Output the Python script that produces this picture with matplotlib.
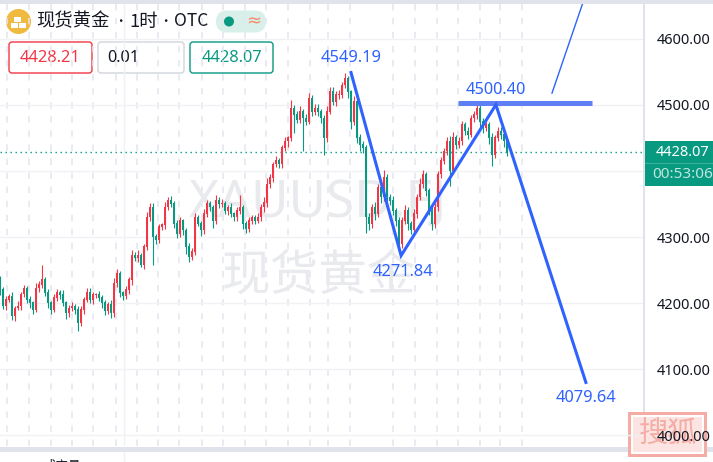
import matplotlib
matplotlib.use("Agg")
import matplotlib.pyplot as plt
from matplotlib.patches import FancyBboxPatch, Rectangle, Circle

plt.rcParams['font.family'] = ['Noto Sans CJK SC', 'DejaVu Sans']

closes = [
 4220,4196,4205,4210,4180,4192,4195,4213,4222,4205,
 4200,4190,4222,4228,4235,4215,4200,4190,4208,4215,
 4212,4200,4185,4192,4195,4190,4170,4190,4205,4215,
 4205,4212,4212,4208,4200,4188,4198,4185,4230,4245,
 4215,4210,4220,4235,4272,4268,4272,4258,4285,4330,
 4345,4300,4295,4315,4318,4345,4355,4350,4320,4305,
 4325,4310,4285,4270,4278,4330,4320,4310,4335,4350,
 4345,4325,4355,4350,4350,4340,4345,4335,4330,4340,
 4345,4320,4312,4325,4330,4325,4330,4345,4352,4380,
 4390,4410,4415,4410,4435,4445,4450,4495,4485,4478,
 4490,4480,4475,4510,4490,4495,4490,4480,4450,4490,
 4520,4505,4515,4515,4530,4540,4520,4475,4505,4450,
 4440,4435,4330,4320,4345,4335,4375,4360,4390,4360,
 4355,4340,4325,4290,4325,4340,4320,4310,4335,4360,
 4380,4395,4370,4340,4320,4345,4395,4415,4430,4445,
 4400,4450,4440,4445,4470,4460,4455,4480,4485,4495,
 4475,4465,4470,4450,4425,4450,4460,4455,4445,4428,
]
wick_up = [
 6,4,5,3,7,4,8,3,5,4,
 6,3,8,5,23,4,6,3,5,6,
 4,7,3,5,6,4,5,6,4,7,
 8,5,3,6,4,5,3,7,8,6,
 4,3,6,5,9,6,8,4,5,8,
 7,6,4,5,3,8,5,7,4,6,
 5,3,4,6,5,7,4,5,8,6,
 5,3,8,6,7,5,4,6,3,5,
 18,4,5,6,4,3,7,5,8,9,
 6,4,7,5,4,6,3,12,5,6,
 8,4,6,8,5,6,7,4,5,9,
 8,7,6,8,5,9,4,3,8,5,
 6,5,4,6,5,8,6,9,12,6,
 5,7,4,6,5,8,6,5,7,5,
 9,6,4,5,6,7,5,6,5,7,
 8,9,5,7,6,4,6,5,6,9,
 5,6,4,5,8,4,6,7,5,4,
]
wick_down = [
 8,5,6,4,5,7,3,6,4,5,
 8,7,4,5,6,5,8,6,4,5,
 6,4,9,6,4,6,12,5,6,4,
 5,6,4,5,7,6,5,8,6,5,
 6,5,4,6,8,5,6,4,7,5,
 6,42,6,4,5,6,4,5,7,6,
 5,7,10,8,5,6,4,8,5,4,
 6,12,5,6,4,5,6,4,5,6,
 5,8,6,4,5,6,4,5,7,6,
 5,6,4,5,6,4,8,5,28,6,
 5,50,6,4,7,5,6,8,25,6,
 4,5,7,6,5,4,10,12,6,8,
 9,7,24,10,6,9,5,8,6,5,
 7,6,8,12,7,5,9,6,5,6,
 4,6,8,7,10,6,5,6,4,5,
 22,5,6,5,6,5,6,4,5,6,
 8,7,5,9,18,6,5,6,9,6,
]
bar_index = list(range(len(closes)))

swing_x = [117.0, 133.7, 165.3, 195.3]
swing_price = [4549.19, 4271.84, 4500.40, 4079.64]
swing_labels = ['4549.19', '4271.84', '4500.40', '4079.64']
swing_offsets = [(0, 10.8), (1.5, -12), (0, 10.6), (0, -11.5)]
trend_x = [184.0, 194.3]
trend_price = [4518, 4655]
level_x = [152.7, 197.3]
level_price = 4503

price_ticks = [4000, 4100, 4200, 4300, 4400, 4500, 4600]
tick_labels = ['4000.00', '4100.00', '4200.00', '4300.00', '', '4500.00', '4600.00']
grid_x = [2.3, 9.7, 17, 24, 31, 38.7, 45.7, 52.7, 59.7, 67.3, 74.3, 81.7, 88.7,
          96, 103.3, 109.3, 116.7, 131, 138.3, 145.7, 152.7, 160, 166.7, 174]
last_price = 4428.07
ask = '4428.21'
spread = '0.01'
bid = '4428.07'
countdown = '00:53:06'

RED = '#f23645'
GREEN = '#089981'
BLUE = '#2f62ff'
W, H = 713, 462

fig = plt.figure(figsize=(7.13, 4.62), dpi=100, facecolor='white')

# pixel-coordinate layer underneath the chart
ov = fig.add_axes([0, 0, 1, 1], facecolor='white', zorder=1)
ov.set_xlim(0, W)
ov.set_ylim(H, 0)
ov.axis('off')

ax = fig.add_axes([0, (H - 446) / H, 643 / W, 442 / H], facecolor='none', zorder=2)
ax.set_xlim(0, 643 / 3)
ax.set_ylim(4600 - 407 / 0.66, 4600 + 35 / 0.66)
for s in ax.spines.values():
    s.set_visible(False)
ax.set_axisbelow(True)

ax.yaxis.tick_right()
ax.set_yticks(price_ticks)
ax.set_yticklabels(tick_labels, fontsize=10.5, color='#131722', family='Noto Sans')
ax.tick_params(axis='y', length=0, pad=10)
ax.set_xticks(grid_x)
ax.set_xticklabels([])
ax.tick_params(axis='x', length=0)
ax.grid(axis='y', color='#f0f1f5', lw=1)
ax.grid(axis='x', color='#e4e6ef', lw=1.1, linestyle=(0, (4.2, 5)))
ax.axvline(41.3, color='#f0f1f5', lw=1, zorder=0)

# watermarks
ax.text(0.494, 0.549, 'XAUUSD.FJ', transform=ax.transAxes, fontsize=37, color='#e9eaee',
        ha='center', va='center', zorder=1, family='Noto Sans')
ax.text(0.497, 0.385, '现货黄金', transform=ax.transAxes, fontsize=35, color='#e9eaee',
        ha='center', va='center', zorder=1)

# candles
opens = [4235] + closes[:-1]
colors = [RED if c >= o else GREEN for o, c in zip(opens, closes)]
highs = [max(o, c) + u for o, c, u in zip(opens, closes, wick_up)]
lows = [min(o, c) - d for o, c, d in zip(opens, closes, wick_down)]
ax.vlines(bar_index, lows, highs, colors=colors, lw=0.8, zorder=3)
ax.bar(bar_index, [abs(c - o) + 1 for o, c in zip(opens, closes)],
       bottom=[min(o, c) for o, c in zip(opens, closes)], width=0.7,
       color=colors, lw=0, zorder=3)

# last price
ax.axhline(last_price, color=GREEN, lw=1, linestyle=(0, (1, 2.6)), zorder=2)

# drawings
ax.plot(level_x, [level_price] * 2, color='#5f7ff5', lw=3.6, solid_capstyle='butt', zorder=4)
ax.plot(swing_x, swing_price, color=BLUE, lw=2.2, solid_joinstyle='miter', zorder=5)
ax.plot(trend_x, trend_price, color=BLUE, lw=1, zorder=5)
for x, y, t, o in zip(swing_x, swing_price, swing_labels, swing_offsets):
    ax.annotate(t, (x, y), xytext=o, textcoords='offset points', color=BLUE, fontsize=11.8,
                ha='center', va='center', zorder=6, family='Noto Sans')

# frame bands
ov.add_patch(Rectangle((0, 0), W, 4, color='#e0e3eb', lw=0))
ov.add_patch(Rectangle((0, 447), W, 5, color='#e0e3eb', lw=0))
ov.add_patch(Rectangle((643, 4), 2, 443, color='#e0e3eb', lw=0))
ov.plot([124.3, 124.3], [452, 462], color='#f0f1f5', lw=1)

# header
ov.add_patch(Circle((18.5, 21.5), 12.5, color='#f0b93f', lw=0))
for (x, y) in [(14, 17), (10.5, 23), (18.5, 23)]:
    ov.add_patch(Rectangle((x, y), 7, 5, color='white', lw=0))
ov.text(36, 21.5, '现货黄金', fontsize=13.2, color='#131722', va='center', ha='left')
ov.text(120, 21.5, '•', fontsize=9, color='#131722', va='center', ha='center')
ov.text(129, 21.5, '1时', fontsize=13.2, color='#131722', va='center', ha='left')
ov.text(165, 21.5, '•', fontsize=9, color='#131722', va='center', ha='center')
ov.text(174, 21.5, 'OTC', fontsize=12.5, color='#131722', va='center', ha='left')
ov.add_patch(FancyBboxPatch((216, 10.5), 50, 22, boxstyle='round,pad=0,rounding_size=11',
                            fc='#d9f0ea', ec='none'))
ov.add_patch(Circle((229, 21.5), 5, color=GREEN, lw=0))
ov.text(253.5, 21.5, '≈', fontsize=13, color='#f58a6b', ha='center', va='center', family='DejaVu Sans')

boxes = [(9, 83, RED, ask, RED, 50.5, 'center'),
         (98, 86, '#d1d4dc', spread, '#131722', 107, 'left'),
         (190, 83, GREEN, bid, GREEN, 231.5, 'center')]
for x0, w, ec, t, tc, tx, ha in boxes:
    ov.add_patch(FancyBboxPatch((x0, 42), w, 31, boxstyle='round,pad=0,rounding_size=3',
                                fc='white', ec=ec, lw=1))
    ov.text(tx, 57.5, t, fontsize=11.8, color=tc, ha=ha, va='center', family='Noto Sans')

# price tag
ov.add_patch(Rectangle((645, 141), 68, 45, color=GREEN, lw=0))
ov.plot([645, 713], [163, 163], color='#3bb09b', lw=0.8)
ov.text(683, 152, bid, fontsize=10.5, color='white', ha='center', va='center',
        family='Noto Sans', weight='bold')
ov.text(683, 174.5, countdown, fontsize=11, color='#bfe6dd', ha='center', va='center', family='Noto Sans')

# stamp
ov.add_patch(Rectangle((628, 412), 79, 45, fc='#f5aca5', lw=0, zorder=8))
ov.add_patch(Rectangle((632, 416), 71, 37, fc='#fbe4e1', ec='white', lw=1.4, zorder=8))
ov.text(667.5, 434.5, '搜狐', fontsize=21, color='#f5aca5', ha='center', va='center', zorder=8)

ov.text(62, 466, '成交量', fontsize=9, color='#131722', ha='center', va='center')

fig.savefig('out.png', dpi=100, facecolor='white')
